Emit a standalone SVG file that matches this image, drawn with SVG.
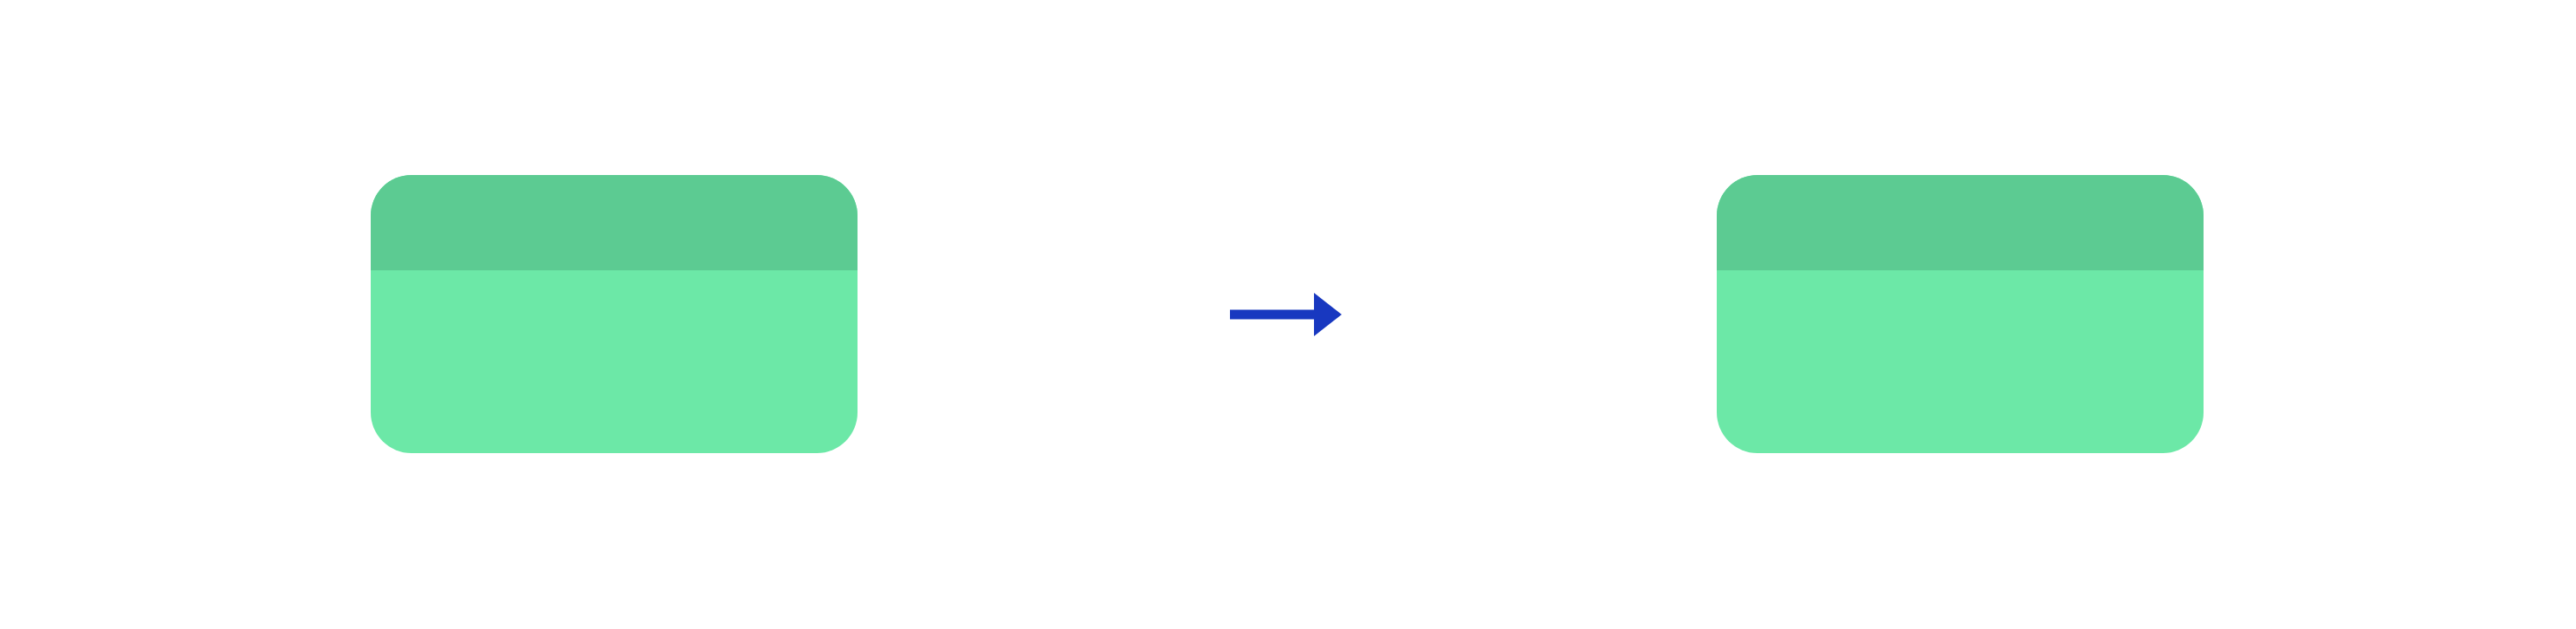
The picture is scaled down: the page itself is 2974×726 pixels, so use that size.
<svg xmlns="http://www.w3.org/2000/svg" width="2974" height="726" viewBox="0 0 2974 726">
<style>
.body{fill:#6ce8a7}
.head{fill:#5ccb92}
.conn{stroke:#1838c0;stroke-width:11;fill:none}
</style>
<defs>
<clipPath id="c1"><rect x="428" y="202" width="562" height="321" rx="47" ry="47"/></clipPath>
<clipPath id="c2"><rect x="1982" y="202" width="562" height="321" rx="47" ry="47"/></clipPath>
<marker id="ah" markerUnits="userSpaceOnUse" markerWidth="34" markerHeight="52" refX="0" refY="25" orient="auto">
<path d="M0,0 L32,25 L0,50 Z" fill="#1838c0"/>
</marker>
</defs>
<rect width="2974" height="726" fill="#ffffff"/>
<g id="node1">
<g clip-path="url(#c1)">
<rect class="body" x="428" y="202" width="562" height="321"/>
<rect class="head" x="428" y="202" width="562" height="110"/>
</g>
</g>
<g id="node2">
<g clip-path="url(#c2)">
<rect class="body" x="1982" y="202" width="562" height="321"/>
<rect class="head" x="1982" y="202" width="562" height="110"/>
</g>
</g>
<g id="connectors">
<line class="conn" x1="1420" y1="363" x2="1517" y2="363" marker-end="url(#ah)"/>
</g>
</svg>
